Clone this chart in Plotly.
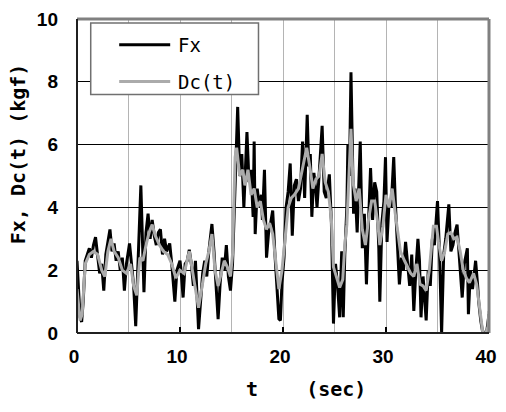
import plotly.graph_objects as go

# ---- data ----
t_fx = [0.0, 0.15, 0.3, 0.45, 0.6, 0.8, 1.0, 1.2, 1.4, 1.6, 1.8, 2.0, 2.2, 2.4, 2.6, 2.8, 3.0, 3.2, 3.4, 3.6,
        3.8, 4.0, 4.2, 4.4, 4.6, 4.8, 5.1, 5.3, 5.5, 5.7, 5.9, 6.05, 6.2, 6.35, 6.5, 6.7, 6.9, 7.1, 7.3, 7.5,
        7.7, 7.9, 8.1, 8.3, 8.5, 8.7, 9.0, 9.2, 9.5, 9.7, 10.0, 10.1, 10.3, 10.5, 10.7, 10.9, 11.1, 11.3, 11.5, 11.8,
        12.0, 12.2, 12.4, 12.6, 12.8, 13.0, 13.1, 13.3, 13.5, 13.7, 13.9, 14.1, 14.3, 14.5, 14.7, 14.9, 15.1, 15.3, 15.5, 15.6,
        15.8, 16.0, 16.2, 16.4, 16.5, 16.7, 16.9, 17.1, 17.2, 17.3, 17.5, 17.7, 17.9, 18.0, 18.2, 18.4, 18.6, 18.8, 19.0, 19.2,
        19.4, 19.6, 19.75, 19.9, 20.1, 20.3, 20.5, 20.7, 20.9, 21.1, 21.3, 21.5, 21.7, 21.9, 22.1, 22.35, 22.5, 22.65, 22.8, 23.0,
        23.2, 23.3, 23.5, 23.8, 24.0, 24.2, 24.5, 24.7, 24.9, 25.1, 25.3, 25.5, 25.7, 25.85, 26.0, 26.2, 26.3, 26.45, 26.6, 26.75,
        26.85, 27.0, 27.2, 27.5, 27.7, 27.9, 28.1, 28.3, 28.5, 28.7, 28.9, 29.1, 29.3, 29.4, 29.6, 29.8, 29.95, 30.1, 30.3, 30.5,
        30.75, 30.9, 31.1, 31.3, 31.5, 31.7, 31.9, 32.1, 32.3, 32.5, 32.7, 32.9, 33.1, 33.25, 33.4, 33.6, 33.75, 33.9, 34.1, 34.3,
        34.5, 34.7, 35.0, 35.2, 35.4, 35.6, 35.8, 36.1, 36.3, 36.5, 36.7, 36.9, 37.1, 37.4, 37.6, 37.9, 38.0, 38.2, 38.4, 38.7,
        38.9, 39.0, 39.2, 39.4, 39.6, 39.8, 40.0]
fx = [2.3, 1.2, 0.5, 0.35, 1.0, 2.3, 2.5, 2.7, 2.4, 2.8, 3.05, 2.4, 1.9, 2.2, 1.35, 2.5, 2.9, 3.3, 2.6, 2.85,
      2.3, 2.6, 2.0, 2.4, 1.35, 2.2, 2.85, 2.2, 1.5, 0.22, 2.0, 3.0, 4.7, 3.0, 1.3, 3.2, 3.8, 3.0, 3.6, 3.1,
      2.8, 3.2, 3.3, 2.5, 3.0, 2.6, 2.85, 2.2, 1.0, 2.0, 2.3, 2.0, 1.13, 2.2, 2.3, 2.65, 2.2, 1.5, 2.3, 0.12,
      1.0, 1.9, 2.3, 1.8, 2.6, 3.2, 3.47, 2.6, 1.5, 0.44, 1.6, 2.4, 2.0, 2.8, 1.8, 1.35, 2.2, 4.5, 6.0, 7.2,
      5.0, 5.7, 4.0, 5.5, 6.4, 4.8, 5.2, 3.7, 6.1, 3.15, 4.6, 4.0, 4.4, 3.6, 5.2, 2.4, 3.2, 3.5, 3.9, 2.6,
      1.4, 0.45, 0.4, 1.6, 2.4, 4.0, 4.5, 5.4, 3.1, 4.7, 4.9, 4.2, 4.6, 6.1, 4.3, 6.95, 5.3, 5.7, 3.7, 5.1,
      4.5, 4.0, 5.0, 6.6, 4.5, 4.3, 5.05, 3.5, 0.3, 2.2, 1.5, 0.5, 2.6, 0.5, 2.5, 4.0, 6.0, 5.0, 8.3, 5.5,
      3.8, 4.6, 3.2, 6.1, 2.7, 3.8, 1.55, 3.5, 5.25, 3.6, 4.8, 4.5, 2.7, 1.0, 3.5, 4.2, 5.6, 2.9, 4.2, 4.0,
      5.6, 4.2, 2.6, 1.55, 2.4, 2.0, 2.9, 2.2, 1.5, 2.5, 0.7, 2.0, 3.0, 2.3, 0.5, 1.8, 1.0, 0.4, 2.0, 1.5,
      3.0, 2.8, 4.2, 2.5, 0.0, 2.5, 3.0, 4.1, 2.6, 2.8, 3.2, 3.45, 2.5, 1.13, 2.2, 2.7, 0.6, 2.0, 1.4, 2.3,
      1.5, 1.0, 0.4, 0.0, 0.0, 0.1, 0.6]

t_dc = [0.0, 0.3, 0.5, 0.8, 1.2, 1.6, 2.0, 2.4, 2.7, 3.0, 3.3, 3.6, 4.0, 4.4, 4.8, 5.2, 5.5, 5.8, 6.1, 6.4,
        6.7, 7.0, 7.3, 7.6, 8.0, 8.4, 8.8, 9.2, 9.6, 10.0, 10.4, 10.9, 11.3, 11.8, 12.2, 12.5, 12.8, 13.1, 13.4, 13.7,
        14.0, 14.3, 14.6, 14.9, 15.1, 15.35, 15.5, 15.8, 16.1, 16.3, 16.6, 16.9, 17.2, 17.5, 17.8, 18.1, 18.4, 18.7, 19.0, 19.3,
        19.6, 19.9, 20.2, 20.5, 20.8, 21.1, 21.5, 21.9, 22.3, 22.6, 22.9, 23.2, 23.5, 23.8, 24.1, 24.4, 24.7, 24.9, 25.2, 25.5,
        25.8, 26.0, 26.2, 26.4, 26.6, 26.8, 27.1, 27.4, 27.7, 28.0, 28.3, 28.6, 28.9, 29.2, 29.4, 29.7, 30.0, 30.3, 30.6, 30.9,
        31.2, 31.4, 31.8, 32.1, 32.4, 32.7, 33.0, 33.3, 33.6, 33.9, 34.2, 34.6, 34.9, 35.1, 35.4, 35.7, 36.0, 36.3, 36.6, 36.9,
        37.2, 37.5, 37.8, 38.1, 38.5, 38.8, 39.1, 39.4, 39.7, 39.9, 40.0]
dc = [1.4, 0.4, 0.6, 2.2, 2.5, 2.6, 2.5, 2.0, 1.8, 2.6, 3.0, 2.6, 2.4, 2.0, 1.9, 2.2, 1.5, 1.2, 2.4, 2.3,
      2.8, 3.2, 3.45, 3.1, 2.8, 2.6, 2.5, 2.2, 1.75, 2.0, 1.9, 2.6, 1.8, 0.8, 1.6, 2.2, 2.6, 3.15, 2.0, 1.5,
      1.9, 2.3, 2.1, 1.8, 2.5, 5.6, 5.9, 5.0, 5.2, 4.7, 5.2, 4.4, 4.6, 4.0, 4.2, 3.6, 3.3, 3.5, 3.15, 2.2,
      1.4, 2.0, 3.0, 4.0, 4.3, 4.4, 4.6, 5.3, 5.9, 5.3, 4.6, 4.9, 5.0, 5.7, 4.8, 4.5, 3.6, 2.1, 1.8, 1.45,
      1.7, 2.8, 3.45, 5.0, 6.5, 4.8, 4.2, 4.6, 3.3, 2.8, 3.6, 4.2, 4.2, 3.5, 2.8, 3.4, 4.4, 4.0, 4.6, 3.8,
      3.0, 2.6, 2.3, 2.1, 1.9, 1.8, 2.2, 1.55, 1.5, 1.35, 2.0, 3.4, 3.4, 2.9, 2.3, 2.6, 3.15, 3.2, 3.0, 3.05,
      2.6, 2.0, 1.75, 1.6, 1.9, 1.55, 0.8, 0.0, 0.0, 0.2, 0.7]

series_names = ["Fx", "Dc(t)"]
x_ticks = [0, 10, 20, 30, 40]
y_ticks = [0, 2, 4, 6, 8, 10]
x_title = "t    (sec)"
y_title = "Fx, Dc(t) (kgf)"

BLACK = "#000000"
GRAY = "#ababab"

fig = go.Figure()
fig.add_trace(go.Scatter(x=t_fx, y=fx, mode="lines", name=series_names[0],
                         line=dict(color=BLACK, width=3), showlegend=False))
fig.add_trace(go.Scatter(x=t_dc, y=dc, mode="lines", name=series_names[1],
                         line=dict(color=GRAY, width=3), showlegend=False))

tick_font = dict(family="Liberation Sans, Arial, sans-serif", size=19, color="black", weight="bold")

fig.update_layout(
    width=506, height=412,
    margin=dict(l=77, r=9, t=17, b=79),
    paper_bgcolor="white", plot_bgcolor="white",
    xaxis=dict(range=[0, 40], tickvals=x_ticks, ticktext=[str(v) for v in x_ticks],
               showgrid=True, gridcolor="#b4b4b4", gridwidth=1,
               minor=dict(dtick=5, showgrid=True, gridcolor="#b4b4b4", gridwidth=1),
               ticks="inside", ticklen=6, tickwidth=1.5, tickcolor="black",
               zeroline=False, showline=False, tickfont=tick_font, ticklabelstandoff=10,
               ticklabelshift=-3, ticklabeloverflow="allow"),
    yaxis=dict(range=[0, 10], tickvals=y_ticks, ticktext=[str(v) for v in y_ticks],
               showgrid=True, gridcolor="black", gridwidth=1,
               ticks="", zeroline=False, showline=False, tickfont=tick_font, ticklabelstandoff=18),
)

shapes = []
# frame: gray top/right, dark left/bottom
shapes.append(dict(type="line", xref="paper", yref="paper", x0=0, x1=1, y0=1, y1=1,
                   line=dict(color="#808080", width=3), layer="above"))
shapes.append(dict(type="line", xref="paper", yref="paper", x0=1, x1=1, y0=0, y1=1,
                   line=dict(color="#808080", width=3), layer="above"))
shapes.append(dict(type="line", xref="paper", yref="paper", x0=0, x1=0, y0=0, y1=1,
                   line=dict(color="#202020", width=2), layer="above"))
shapes.append(dict(type="line", xref="paper", yref="paper", x0=0, x1=1, y0=0, y1=0,
                   line=dict(color="#202020", width=2), layer="above"))
# legend box
shapes.append(dict(type="rect", xref="paper", yref="paper", x0=0.0333, x1=0.4405, y0=0.7595, y1=0.987,
                   fillcolor="white", line=dict(color="#707070", width=1.5), layer="above"))
shapes.append(dict(type="line", xref="paper", yref="paper", x0=0.1024, x1=0.2262, y0=0.918, y1=0.918,
                   line=dict(color=BLACK, width=3), layer="above"))
shapes.append(dict(type="line", xref="paper", yref="paper", x0=0.1024, x1=0.2262, y0=0.8006, y1=0.8006,
                   line=dict(color=GRAY, width=3), layer="above"))
fig.update_layout(shapes=shapes)

leg_font = dict(family="DejaVu Sans Mono, monospace", size=19, color="black")
title_font = dict(family="DejaVu Sans Mono, monospace", size=20, color="black", weight="bold")
fig.add_annotation(xref="paper", yref="paper", x=0.2405, y=0.918, text=series_names[0],
                   showarrow=False, xanchor="left", yanchor="middle", font=leg_font)
fig.add_annotation(xref="paper", yref="paper", x=0.2405, y=0.8006, text=series_names[1],
                   showarrow=False, xanchor="left", yanchor="middle", font=leg_font)
# axis titles
fig.add_annotation(xref="paper", yref="paper", x=(310 - 77) / 420, y=(333 - 389) / 316, text=x_title,
                   showarrow=False, xanchor="center", yanchor="middle", font=title_font)
fig.add_annotation(xref="paper", yref="paper", x=(17 - 77) / 420, y=(333 - 153) / 316, text=y_title,
                   showarrow=False, xanchor="center", yanchor="middle", textangle=-90, font=title_font)

fig.write_html("out.html")
